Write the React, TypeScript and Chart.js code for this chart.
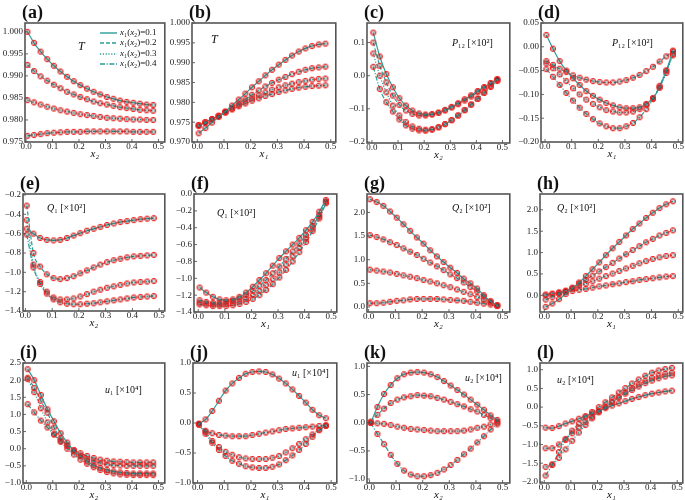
import React, { useEffect, useRef } from 'react';
import { Chart, registerables } from 'chart.js';
Chart.register(...registerables);

// ---------- data ----------
const X = [0.005, 0.03, 0.055, 0.08, 0.105, 0.13, 0.155, 0.18, 0.205, 0.23, 0.255, 0.28, 0.305, 0.33, 0.355, 0.38, 0.405, 0.43, 0.455, 0.48];
const xTicks = [0, 0.1, 0.2, 0.3, 0.4, 0.5];
const legendLabels = ['0.1', '0.2', '0.3', '0.4'];

// (a) T vs x2
const a1 = [1.0000, 0.9975, 0.9955, 0.9938, 0.9923, 0.9910, 0.9898, 0.9888, 0.9879, 0.9871, 0.9864, 0.9858, 0.9852, 0.9848, 0.9844, 0.9841, 0.9839, 0.9837, 0.9835, 0.9834];
const a2 = [0.9925, 0.9911, 0.9899, 0.9889, 0.9880, 0.9872, 0.9864, 0.9858, 0.9852, 0.9847, 0.9842, 0.9838, 0.9835, 0.9832, 0.9829, 0.9827, 0.9825, 0.9823, 0.9822, 0.9821];
const a3 = [0.9845, 0.9840, 0.9835, 0.9830, 0.9826, 0.9822, 0.9819, 0.9816, 0.9813, 0.9811, 0.9809, 0.9807, 0.9805, 0.9804, 0.9803, 0.9802, 0.9801, 0.9801, 0.9800, 0.9800];
const a4 = [0.9764, 0.9766, 0.9768, 0.9770, 0.9771, 0.9772, 0.9773, 0.9773, 0.9773, 0.9774, 0.9774, 0.9774, 0.9774, 0.9774, 0.9774, 0.9774, 0.9773, 0.9773, 0.9773, 0.9773];
// (b) T vs x1
const b1 = [0.9722, 0.9735, 0.9749, 0.9763, 0.9777, 0.9792, 0.9807, 0.9822, 0.9838, 0.9853, 0.9868, 0.9882, 0.9895, 0.9907, 0.9918, 0.9928, 0.9936, 0.9942, 0.9946, 0.9948];
const b2 = [0.9740, 0.9748, 0.9757, 0.9766, 0.9776, 0.9786, 0.9797, 0.9808, 0.9819, 0.9830, 0.9840, 0.9849, 0.9857, 0.9864, 0.9871, 0.9877, 0.9882, 0.9886, 0.9888, 0.9890];
const b3 = [0.9742, 0.9750, 0.9758, 0.9766, 0.9775, 0.9784, 0.9793, 0.9802, 0.9810, 0.9818, 0.9825, 0.9832, 0.9838, 0.9843, 0.9847, 0.9851, 0.9854, 0.9857, 0.9859, 0.9860];
const b4 = [0.9743, 0.9750, 0.9758, 0.9766, 0.9774, 0.9782, 0.9790, 0.9797, 0.9804, 0.9810, 0.9816, 0.9821, 0.9826, 0.9830, 0.9834, 0.9837, 0.9839, 0.9841, 0.9842, 0.9843];
// (c) P12 vs x2
const c1 = [0.130, 0.058, 0.005, -0.035, -0.068, -0.090, -0.105, -0.114, -0.117, -0.116, -0.111, -0.103, -0.094, -0.083, -0.071, -0.059, -0.046, -0.034, -0.022, -0.010];
const c2 = [0.100, 0.030, -0.020, -0.060, -0.088, -0.105, -0.115, -0.120, -0.120, -0.117, -0.112, -0.105, -0.096, -0.086, -0.075, -0.063, -0.050, -0.037, -0.024, -0.012];
const c3 = [0.067, 0.000, -0.050, -0.090, -0.120, -0.140, -0.153, -0.160, -0.163, -0.161, -0.155, -0.146, -0.134, -0.120, -0.104, -0.087, -0.069, -0.050, -0.031, -0.013];
const c4 = [0.027, -0.040, -0.080, -0.108, -0.132, -0.150, -0.160, -0.165, -0.166, -0.163, -0.156, -0.146, -0.134, -0.120, -0.104, -0.087, -0.070, -0.052, -0.034, -0.016];
// (d) P12 vs x1
const d1 = [0.025, -0.004, -0.030, -0.050, -0.066, -0.080, -0.093, -0.103, -0.111, -0.118, -0.123, -0.127, -0.129, -0.129, -0.127, -0.120, -0.108, -0.085, -0.050, -0.010];
const d2 = [-0.030, -0.038, -0.046, -0.053, -0.060, -0.065, -0.069, -0.072, -0.074, -0.075, -0.075, -0.073, -0.070, -0.065, -0.059, -0.051, -0.042, -0.031, -0.020, -0.008];
const d3 = [-0.035, -0.045, -0.058, -0.072, -0.087, -0.100, -0.111, -0.120, -0.127, -0.133, -0.136, -0.138, -0.138, -0.136, -0.131, -0.122, -0.108, -0.086, -0.055, -0.015];
const d4 = [-0.047, -0.063, -0.080, -0.097, -0.113, -0.128, -0.141, -0.152, -0.161, -0.167, -0.171, -0.171, -0.167, -0.160, -0.148, -0.131, -0.110, -0.082, -0.050, -0.018];
// (e) Q1 vs x2
const e1 = [-0.55, -0.60, -0.645, -0.665, -0.67, -0.665, -0.645, -0.62, -0.595, -0.57, -0.55, -0.53, -0.51, -0.495, -0.48, -0.47, -0.46, -0.45, -0.445, -0.44];
const e2 = [-0.31, -0.80, -0.94, -1.02, -1.06, -1.07, -1.06, -1.04, -1.01, -0.98, -0.95, -0.92, -0.895, -0.875, -0.86, -0.845, -0.835, -0.83, -0.825, -0.82];
const e3 = [-0.46, -0.92, -1.10, -1.20, -1.26, -1.28, -1.28, -1.27, -1.25, -1.225, -1.20, -1.18, -1.16, -1.145, -1.13, -1.115, -1.105, -1.10, -1.095, -1.09];
const e4 = [-0.61, -0.95, -1.12, -1.22, -1.28, -1.31, -1.325, -1.33, -1.33, -1.325, -1.32, -1.31, -1.30, -1.29, -1.28, -1.27, -1.26, -1.255, -1.25, -1.245];
// (f) Q1 vs x1
const f1 = [-1.11, -1.17, -1.22, -1.25, -1.26, -1.25, -1.22, -1.17, -1.10, -1.02, -0.94, -0.85, -0.76, -0.68, -0.60, -0.52, -0.43, -0.33, -0.21, -0.07];
const f2 = [-1.26, -1.28, -1.29, -1.29, -1.285, -1.27, -1.24, -1.20, -1.15, -1.09, -1.02, -0.94, -0.86, -0.77, -0.68, -0.59, -0.49, -0.38, -0.25, -0.09];
const f3 = [-1.29, -1.30, -1.31, -1.31, -1.305, -1.295, -1.275, -1.245, -1.20, -1.15, -1.08, -1.01, -0.93, -0.84, -0.74, -0.64, -0.53, -0.41, -0.27, -0.10];
const f4 = [-1.31, -1.32, -1.33, -1.33, -1.33, -1.32, -1.305, -1.28, -1.245, -1.20, -1.14, -1.07, -0.99, -0.90, -0.80, -0.69, -0.57, -0.44, -0.29, -0.11];
// (g) Q2 vs x2
const g1 = [2.28, 2.22, 2.14, 2.02, 1.89, 1.75, 1.61, 1.47, 1.34, 1.20, 1.07, 0.95, 0.83, 0.72, 0.60, 0.50, 0.39, 0.25, 0.12, 0.03];
const g2 = [1.52, 1.48, 1.43, 1.37, 1.31, 1.24, 1.17, 1.10, 1.02, 0.94, 0.86, 0.78, 0.69, 0.61, 0.52, 0.42, 0.33, 0.22, 0.12, 0.04];
const g3 = [0.79, 0.77, 0.75, 0.73, 0.70, 0.67, 0.64, 0.61, 0.57, 0.54, 0.50, 0.46, 0.42, 0.37, 0.32, 0.27, 0.21, 0.15, 0.09, 0.03];
const g4 = [0.08, 0.08, 0.09, 0.11, 0.13, 0.14, 0.16, 0.17, 0.17, 0.17, 0.17, 0.16, 0.15, 0.14, 0.13, 0.11, 0.09, 0.07, 0.05, 0.02];
// (h) Q2 vs x1
const h1 = [-0.27, -0.19, -0.09, 0.03, 0.16, 0.30, 0.45, 0.61, 0.77, 0.94, 1.10, 1.25, 1.40, 1.55, 1.68, 1.81, 1.93, 2.04, 2.13, 2.20];
const h2 = [-0.10, -0.04, 0.03, 0.10, 0.18, 0.27, 0.36, 0.46, 0.56, 0.66, 0.76, 0.86, 0.96, 1.06, 1.15, 1.24, 1.32, 1.40, 1.46, 1.52];
const h3 = [0.00, 0.03, 0.07, 0.11, 0.16, 0.21, 0.27, 0.33, 0.39, 0.45, 0.51, 0.57, 0.63, 0.69, 0.75, 0.80, 0.85, 0.89, 0.92, 0.94];
const h4 = [0.02, 0.04, 0.06, 0.08, 0.10, 0.13, 0.15, 0.18, 0.21, 0.23, 0.26, 0.28, 0.31, 0.33, 0.36, 0.38, 0.40, 0.42, 0.44, 0.45];
// (i) u1 vs x2
const i1 = [2.32, 2.00, 1.57, 1.15, 0.80, 0.45, 0.18, -0.05, -0.22, -0.37, -0.48, -0.56, -0.62, -0.66, -0.69, -0.71, -0.72, -0.72, -0.72, -0.72];
const i2 = [2.07, 1.77, 1.40, 1.05, 0.62, 0.30, 0.10, -0.08, -0.20, -0.30, -0.37, -0.42, -0.46, -0.48, -0.49, -0.50, -0.50, -0.50, -0.50, -0.50];
const i3 = [2.03, 1.65, 1.18, 0.77, 0.42, 0.20, 0.00, -0.17, -0.32, -0.44, -0.54, -0.62, -0.68, -0.72, -0.75, -0.76, -0.77, -0.77, -0.77, -0.77];
const i4 = [1.30, 1.06, 0.82, 0.62, 0.42, 0.23, 0.08, -0.04, -0.13, -0.21, -0.27, -0.32, -0.35, -0.37, -0.38, -0.39, -0.40, -0.40, -0.40, -0.40];
// (j) u1 vs x1
const j1 = [-0.01, 0.06, 0.20, 0.37, 0.54, 0.66, 0.75, 0.82, 0.85, 0.86, 0.85, 0.81, 0.74, 0.66, 0.56, 0.45, 0.34, 0.22, 0.13, 0.08];
const j2 = [-0.02, -0.13, -0.17, -0.20, -0.21, -0.22, -0.22, -0.22, -0.20, -0.18, -0.16, -0.14, -0.12, -0.10, -0.09, -0.08, -0.07, -0.06, -0.05, -0.04];
const j3 = [-0.02, -0.15, -0.30, -0.40, -0.48, -0.53, -0.57, -0.59, -0.60, -0.60, -0.60, -0.58, -0.55, -0.49, -0.42, -0.35, -0.27, -0.19, -0.11, -0.04];
const j4 = [-0.03, -0.18, -0.33, -0.45, -0.55, -0.63, -0.68, -0.72, -0.74, -0.75, -0.75, -0.73, -0.69, -0.62, -0.54, -0.45, -0.35, -0.23, -0.12, -0.05];
// (k) u2 vs x2
const k1 = [0.00, 0.28, 0.51, 0.67, 0.79, 0.86, 0.89, 0.90, 0.89, 0.86, 0.81, 0.74, 0.66, 0.58, 0.50, 0.41, 0.32, 0.23, 0.13, 0.05];
const k2 = [0.02, 0.14, 0.25, 0.35, 0.41, 0.45, 0.47, 0.49, 0.48, 0.47, 0.44, 0.41, 0.37, 0.33, 0.29, 0.24, 0.20, 0.14, 0.08, 0.02];
const k3 = [0.00, -0.01, -0.02, -0.04, -0.07, -0.09, -0.11, -0.12, -0.13, -0.14, -0.15, -0.15, -0.15, -0.15, -0.14, -0.12, -0.09, -0.07, -0.03, 0.00];
const k4 = [0.00, -0.20, -0.38, -0.57, -0.73, -0.85, -0.92, -0.95, -0.95, -0.93, -0.89, -0.83, -0.75, -0.66, -0.56, -0.46, -0.35, -0.24, -0.12, -0.03];
// (l) u2 vs x1
const l1 = [-0.55, -0.56, -0.51, -0.44, -0.38, -0.31, -0.24, -0.17, -0.10, -0.03, 0.04, 0.10, 0.16, 0.22, 0.27, 0.32, 0.36, 0.39, 0.42, 0.44];
const l2 = [-1.10, -1.10, -1.00, -0.85, -0.70, -0.55, -0.40, -0.26, -0.12, 0.01, 0.13, 0.25, 0.36, 0.46, 0.55, 0.64, 0.71, 0.77, 0.82, 0.85];
const l3 = [-1.60, -1.53, -1.36, -1.13, -0.90, -0.68, -0.48, -0.30, -0.14, 0.01, 0.15, 0.28, 0.40, 0.51, 0.61, 0.70, 0.78, 0.85, 0.89, 0.92];
const l4 = [-1.83, -1.55, -1.20, -0.88, -0.63, -0.44, -0.27, -0.13, 0.00, 0.13, 0.26, 0.39, 0.51, 0.63, 0.74, 0.84, 0.92, 0.98, 1.02, 1.05];

// y tick values
const aTicks = [0.975, 0.98, 0.985, 0.99, 0.995, 1.0];
const bTicks = [0.97, 0.975, 0.98, 0.985, 0.99, 0.995, 1.0];
const cTicks = [-0.2, -0.1, 0.0, 0.1];
const dTicks = [-0.2, -0.15, -0.1, -0.05, 0.0, 0.05];
const eTicks = [-1.4, -1.2, -1.0, -0.8, -0.6, -0.4, -0.2];
const fTicks = [-1.4, -1.2, -1.0, -0.8, -0.6, -0.4, -0.2, 0.0];
const gTicks = [0.0, 0.5, 1.0, 1.5, 2.0];
const hTicks = [0.0, 0.5, 1.0, 1.5, 2.0];
const iTicks = [-1.0, -0.5, 0.0, 0.5, 1.0, 1.5, 2.0, 2.5];
const jTicks = [-1.0, -0.5, 0.0, 0.5, 1.0];
const kTicks = [-1.0, -0.5, 0.0, 0.5, 1.0];
const lTicks = [-2.0, -1.5, -1.0, -0.5, 0.0, 0.5, 1.0];

// ---------- styling / layout ----------
const SERIF = '"Liberation Serif", "DejaVu Serif", serif';
const TEAL = '#2a9d97';
const DASHES: number[][] = [[], [4, 2], [1.2, 1.6], [5, 1.6, 1.2, 1.6]];
const PAD_L = 45, PAD_T = 28, PAD_R = 4, PAD_B = 17;

type Seg = [string, boolean];
type Panel = {
  tag: string; series: number[][]; yTicks: number[]; dec: number;
  xmin: number; xmax: number; ymin: number; ymax: number;
  L: number; T: number; R: number; B: number;
  xlabel: string; note: Seg[]; noteX: number; noteY: number; noteSize: number; legend?: boolean;
};

const P12: Seg[] = [['P', true], ['₁₂ [×10²]', false]];
const Q1: Seg[] = [['Q', true], ['₁ [×10²]', false]];
const Q2: Seg[] = [['Q', true], ['₂ [×10²]', false]];
const U1: Seg[] = [['u', true], ['₁ [×10⁴]', false]];
const U2: Seg[] = [['u', true], ['₂ [×10⁴]', false]];
const TT: Seg[] = [['T', true]];

const panels: Panel[] = [
  { tag: '(a)', series: [a1, a2, a3, a4], yTicks: aTicks, dec: 3, xmin: -0.004, xmax: 0.524, ymin: 0.975, ymax: 1.002, L: 25, T: 23, R: 166, B: 142, xlabel: 'x₂', note: TT, noteX: 78, noteY: 47, noteSize: 12, legend: true },
  { tag: '(b)', series: [b1, b2, b3, b4], yTicks: bTicks, dec: 3, xmin: -0.02, xmax: 0.519, ymin: 0.97, ymax: 1.0, L: 192, T: 23, R: 337, B: 142, xlabel: 'x₁', note: TT, noteX: 211, noteY: 40, noteSize: 12 },
  { tag: '(c)', series: [c1, c2, c3, c4], yTicks: cTicks, dec: 1, xmin: -0.019, xmax: 0.528, ymin: -0.203, ymax: 0.159, L: 367, T: 23, R: 511, B: 143, xlabel: 'x₂', note: P12, noteX: 452, noteY: 43, noteSize: 10 },
  { tag: '(d)', series: [d1, d2, d3, d4], yTicks: dTicks, dec: 2, xmin: -0.015, xmax: 0.517, ymin: -0.2, ymax: 0.05, L: 541, T: 23, R: 684, B: 142, xlabel: 'x₁', note: P12, noteX: 612, noteY: 43, noteSize: 10 },
  { tag: '(e)', series: [e1, e2, e3, e4], yTicks: eTicks, dec: 1, xmin: -0.009, xmax: 0.521, ymin: -1.4, ymax: -0.19, L: 23, T: 194, R: 166, B: 311, xlabel: 'x₂', note: Q1, noteX: 47, noteY: 208, noteSize: 10 },
  { tag: '(f)', series: [f1, f2, f3, f4], yTicks: fTicks, dec: 1, xmin: -0.016, xmax: 0.521, ymin: -1.4, ymax: 0.0, L: 194, T: 194, R: 338, B: 312, xlabel: 'x₁', note: Q1, noteX: 217, noteY: 213, noteSize: 10 },
  { tag: '(g)', series: [g1, g2, g3, g4], yTicks: gTicks, dec: 1, xmin: -0.006, xmax: 0.527, ymin: -0.106, ymax: 2.39, L: 367, T: 194, R: 511, B: 312, xlabel: 'x₂', note: Q2, noteX: 452, noteY: 208, noteSize: 10 },
  { tag: '(h)', series: [h1, h2, h3, h4], yTicks: hTicks, dec: 1, xmin: -0.016, xmax: 0.517, ymin: -0.39, ymax: 2.37, L: 540, T: 194, R: 684, B: 312, xlabel: 'x₁', note: Q2, noteX: 557, noteY: 208, noteSize: 10 },
  { tag: '(i)', series: [i1, i2, i3, i4], yTicks: iTicks, dec: 1, xmin: -0.0125, xmax: 0.524, ymin: -1.0, ymax: 2.5, L: 23, T: 363, R: 166, B: 483, xlabel: 'x₂', note: U1, noteX: 105, noteY: 390, noteSize: 10 },
  { tag: '(j)', series: [j1, j2, j3, j4], yTicks: jTicks, dec: 1, xmin: -0.017, xmax: 0.521, ymin: -1.0, ymax: 1.0, L: 193, T: 363, R: 338, B: 483, xlabel: 'x₁', note: U1, noteX: 292, noteY: 373, noteSize: 10 },
  { tag: '(k)', series: [k1, k2, k3, k4], yTicks: kTicks, dec: 1, xmin: -0.009, xmax: 0.527, ymin: -1.07, ymax: 1.06, L: 367, T: 363, R: 511, B: 483, xlabel: 'x₂', note: U2, noteX: 465, noteY: 378, noteSize: 10 },
  { tag: '(l)', series: [l1, l2, l3, l4], yTicks: lTicks, dec: 1, xmin: -0.016, xmax: 0.521, ymin: -2.03, ymax: 1.18, L: 540, T: 363, R: 684, B: 483, xlabel: 'x₁', note: U2, noteX: 557, noteY: 380, noteSize: 10 },
];

function fmt(v: number, d: number) {
  const s = (Math.abs(v) < 1e-9 ? 0 : v).toFixed(d);
  return s.replace('-', '\u2212');
}

let markerCache: HTMLCanvasElement | null = null;
function marker() {
  if (markerCache) return markerCache;
  const c = document.createElement('canvas');
  c.width = 8; c.height = 8;
  const g = c.getContext('2d')!;
  g.strokeStyle = 'rgb(245,35,35)';
  g.lineWidth = 1.0;
  g.beginPath(); g.arc(4, 4, 2.7, 0, Math.PI * 2); g.stroke();
  g.strokeStyle = 'rgba(40,40,40,0.7)';
  g.lineWidth = 0.7;
  g.beginPath(); g.arc(4, 4, 1.5, 0, Math.PI * 2); g.stroke();
  markerCache = c;
  return c;
}

function drawRich(ctx: CanvasRenderingContext2D, segs: Seg[], x: number, y: number, size: number) {
  let cx = x;
  for (const [t, it] of segs) {
    ctx.font = `${it ? 'italic ' : ''}${size}px ${SERIF}`;
    ctx.fillText(t, cx, y);
    cx += ctx.measureText(t).width;
  }
}

function decorPlugin(p: Panel) {
  return {
    id: 'decor',
    afterDatasetsDraw(chart: any) {
      const ctx: CanvasRenderingContext2D = chart.ctx;
      const a = chart.chartArea;
      const ox = a.left - p.L, oy = a.top - p.T;
      const xs = chart.scales.x, ys = chart.scales.y;
      ctx.save();
      // inward ticks
      ctx.strokeStyle = '#444';
      ctx.lineWidth = 0.8;
      ctx.beginPath();
      xTicks.forEach((v) => {
        const px = xs.getPixelForValue(v);
        ctx.moveTo(px, a.bottom); ctx.lineTo(px, a.bottom - 3);
      });
      p.yTicks.forEach((v) => {
        const py = ys.getPixelForValue(v);
        ctx.moveTo(a.left, py); ctx.lineTo(a.left + 3, py);
      });
      ctx.stroke();
      // frame
      ctx.strokeStyle = '#555';
      ctx.lineWidth = 1.6;
      ctx.strokeRect(a.left, a.top, a.right - a.left, a.bottom - a.top);
      ctx.fillStyle = '#111';
      ctx.textBaseline = 'middle';
      ctx.textAlign = 'left';
      // annotation
      drawRich(ctx, p.note, p.noteX + ox, p.noteY + oy, p.noteSize);
      // panel tag
      ctx.font = `bold 18px ${SERIF}`;
      ctx.textBaseline = 'alphabetic';
      ctx.fillText(p.tag, a.left - 3, a.top - 5);
      // x axis title
      ctx.textAlign = 'center';
      ctx.textBaseline = 'middle';
      ctx.font = `italic 11px ${SERIF}`;
      ctx.fillText(p.xlabel, (a.left + a.right) / 2, a.bottom + 12.5);
      // legend
      if (p.legend) {
        const rows = [33, 43, 54, 64];
        ctx.textAlign = 'left';
        legendLabels.forEach((lab, i) => {
          const y = rows[i] + oy;
          ctx.strokeStyle = TEAL;
          ctx.lineWidth = 1.4;
          ctx.setLineDash(DASHES[i]);
          ctx.beginPath();
          ctx.moveTo(100 + ox, y);
          ctx.lineTo(117 + ox, y);
          ctx.stroke();
          ctx.setLineDash([]);
          ctx.fillStyle = '#111';
          drawRich(ctx, [['x', true], ['₁(', false], ['x', true], ['₂)', false], ['=' + lab, false]], 120 + ox, y, 9);
        });
      }
      ctx.restore();
    },
  };
}

function PanelChart({ p }: { p: Panel }) {
  const ref = useRef<HTMLCanvasElement | null>(null);
  const w = p.R - p.L + PAD_L + PAD_R;
  const h = p.B - p.T + PAD_T + PAD_B;
  useEffect(() => {
    const tickFont = { family: SERIF, size: 9 };
    const chart = new Chart(ref.current!, {
      type: 'line',
      data: {
        datasets: p.series.map((s, i) => ({
          data: X.map((x, k) => ({ x, y: s[k] })),
          borderColor: TEAL,
          borderWidth: 1.2,
          borderDash: DASHES[i],
          pointStyle: marker(),
          pointRadius: 4,
          pointHoverRadius: 4,
          cubicInterpolationMode: 'monotone',
          fill: false,
          clip: 6,
        })),
      },
      options: {
        responsive: false,
        devicePixelRatio: 1,
        animation: false,
        events: [],
        layout: { padding: { top: PAD_T, right: PAD_R, left: 0, bottom: 0 } },
        plugins: { legend: { display: false }, tooltip: { enabled: false } },
        scales: {
          x: {
            type: 'linear', min: p.xmin, max: p.xmax,
            afterBuildTicks: (s: any) => { s.ticks = xTicks.map((v) => ({ value: v })); },
            ticks: { callback: (v: any) => fmt(Number(v), 1), font: tickFont, color: '#222', padding: -1, maxRotation: 0, autoSkip: false },
            grid: { display: false, drawOnChartArea: false, drawTicks: false },
            border: { display: false },
            afterFit: (s: any) => { s.height = PAD_B; s.paddingLeft = 0; s.paddingRight = 0; s.paddingTop = 0; s.paddingBottom = 0; },
          },
          y: {
            type: 'linear', min: p.ymin, max: p.ymax,
            afterBuildTicks: (s: any) => { s.ticks = p.yTicks.map((v) => ({ value: v })); },
            ticks: { callback: (v: any) => fmt(Number(v), p.dec), font: tickFont, color: '#222', padding: 2, autoSkip: false },
            grid: { display: false, drawOnChartArea: false, drawTicks: false },
            border: { display: false },
            afterFit: (s: any) => { s.width = PAD_L; s.paddingLeft = 0; s.paddingRight = 0; s.paddingTop = 0; s.paddingBottom = 0; },
          },
        },
      } as any,
      plugins: [decorPlugin(p)],
    } as any);
    return () => chart.destroy();
  }, []);
  return (
    <canvas
      ref={ref}
      width={w}
      height={h}
      style={{ position: 'absolute', left: p.L - PAD_L, top: p.T - PAD_T, width: w, height: h }}
    />
  );
}

export default function App() {
  return (
    <div style={{ position: 'absolute', left: 0, top: 0, width: 685, height: 500, background: '#fff', overflow: 'hidden' }}>
      {panels.map((p) => (
        <PanelChart key={p.tag} p={p} />
      ))}
    </div>
  );
}
